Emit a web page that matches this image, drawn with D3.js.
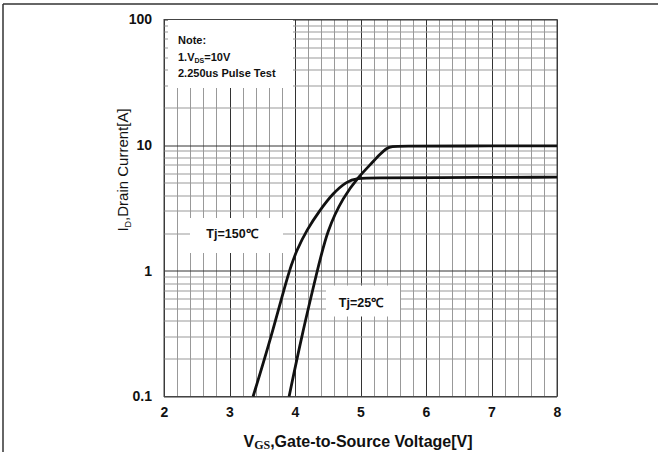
<!DOCTYPE html>
<html>
<head>
<meta charset="utf-8">
<script src="https://cdn.jsdelivr.net/npm/d3@7"></script>
<style>
  body { margin: 0; background: #fff; }
  svg { display: block; }
  .tick text { font-family: "Liberation Sans", Arial, sans-serif; font-weight: bold; font-size: 14px; fill: #111; }
</style>
</head>
<body>
<svg width="658" height="452"></svg>
<script>
// values
const xTicks = [2, 3, 4, 5, 6, 7, 8];
const yTicks = [0.1, 1, 10, 100];
const yTickLabels = ["0.1", "1", "10", "100"];

const vgs25 = [3.91, 4.10, 4.34, 4.49, 4.74, 4.97, 5.15, 5.30, 5.40, 5.48, 5.60, 6.50, 8.00];
const id25  = [0.10, 0.30, 1.00, 2.10, 3.90, 5.60, 7.00, 8.50, 9.50, 9.78, 9.82, 9.85, 9.87];

const vgs150 = [3.36, 3.64, 3.91, 4.03, 4.18, 4.38, 4.58, 4.79, 4.94, 5.22, 6.00, 8.00];
const id150  = [0.10, 0.30, 1.02, 1.47, 2.12, 3.04, 4.15, 5.15, 5.45, 5.50, 5.52, 5.56];

const margin = { top: 19.5, left: 164 };
const width = 393, height = 377;

const svg = d3.select("svg");

// outer frame (top and left edges only visible)
svg.append("line").attr("x1", 3).attr("x2", 658).attr("y1", 4).attr("y2", 4)
    .attr("stroke", "#333").attr("stroke-width", 1.5);
svg.append("line").attr("x1", 3).attr("x2", 3).attr("y1", 4).attr("y2", 452)
    .attr("stroke", "#333").attr("stroke-width", 1.5);

const g = svg.append("g").attr("transform", `translate(${margin.left},${margin.top})`);

const x = d3.scaleLinear().domain([2, 8]).range([0, width]);
const y = d3.scaleLog().domain([0.1, 100]).range([height, 0]);

// grid
const vLines = d3.range(0, 31).map(i => 2 + i * 0.2);
const hLines = [];
[0.1, 1, 10].forEach(d => { for (let k = 1; k <= 9; k++) hLines.push(d * k); });
hLines.push(100);

g.append("g").selectAll("line").data(vLines).join("line")
    .attr("x1", d => Math.round(x(d)) + 0.5).attr("x2", d => Math.round(x(d)) + 0.5)
    .attr("y1", 0).attr("y2", height)
    .attr("stroke", (d, i) => i % 5 === 0 ? "#333" : "#999")
    .attr("stroke-width", 1);

g.append("g").selectAll("line").data(hLines).join("line")
    .attr("x1", 0).attr("x2", width)
    .attr("y1", d => Math.round(y(d)) + 0.5).attr("y2", d => Math.round(y(d)) + 0.5)
    .attr("stroke", (d, i) => i % 9 === 0 ? "#333" : "#999")
    .attr("stroke-width", 1);

g.append("rect").attr("width", width).attr("height", height)
    .attr("fill", "none").attr("stroke", "#444").attr("stroke-width", 1);

// white label boxes over the grid
const boxes = [
    { x: 4, y: 0.5, w: 125, h: 68 },
    { x: 26, y: 198.5, w: 93, h: 35 },
    { x: 162, y: 266, w: 74, h: 31 }
];
g.append("g").selectAll("rect").data(boxes).join("rect")
    .attr("x", d => d.x).attr("y", d => d.y).attr("width", d => d.w).attr("height", d => d.h)
    .attr("fill", "#fff");

// curves
const line = d3.line()
    .x(d => x(d[0]))
    .y(d => y(d[1]))
    .curve(d3.curveBasis);

[[vgs25, id25], [vgs150, id150]].forEach(([vx, vy]) => {
    g.append("path")
        .datum(vx.map((v, i) => [v, vy[i]]))
        .attr("fill", "none")
        .attr("stroke", "#111")
        .attr("stroke-width", 2.8)
        .attr("stroke-linejoin", "round")
        .attr("d", line);
});

// axes (labels only)
const xAxis = g.append("g")
    .attr("transform", `translate(0,${height})`)
    .call(d3.axisBottom(x).tickValues(xTicks).tickFormat(d3.format("d")).tickSize(0).tickPadding(11));
xAxis.select(".domain").remove();

const yAxis = g.append("g")
    .call(d3.axisLeft(y).tickValues(yTicks).tickFormat((d, i) => yTickLabels[i]).tickSize(0).tickPadding(12));
yAxis.select(".domain").remove();

// axis titles
const xt = svg.append("text")
    .attr("x", 358).attr("y", 447)
    .attr("text-anchor", "middle")
    .attr("font-family", "Liberation Sans, Arial, sans-serif")
    .attr("font-weight", "bold").attr("font-size", 16).attr("fill", "#111");
xt.append("tspan").text("V");
xt.append("tspan").attr("font-family", "Liberation Serif, Times New Roman, serif")
    .attr("font-size", 12).attr("dy", 2).text("GS");
xt.append("tspan").attr("dy", -2).text(",Gate-to-Source Voltage[V]");

const yt = svg.append("text")
    .attr("transform", "translate(128,170) rotate(-90)")
    .attr("text-anchor", "middle")
    .attr("font-family", "Liberation Sans, Arial, sans-serif")
    .attr("font-size", 15).attr("fill", "#111");
yt.append("tspan").text("I");
yt.append("tspan").attr("font-size", 9).attr("dy", 3).text("D");
yt.append("tspan").attr("dy", -3).text(",Drain Current[A]");

// note
const note = svg.append("g")
    .attr("font-family", "Liberation Sans, Arial, sans-serif")
    .attr("font-weight", "bold").attr("font-size", 11).attr("fill", "#111");
note.append("text").attr("x", 178).attr("y", 44).text("Note:");
const n1 = note.append("text").attr("x", 178).attr("y", 61);
n1.append("tspan").text("1.V");
n1.append("tspan").attr("font-size", 7).attr("dy", 2).text("DS");
n1.append("tspan").attr("dy", -2).text("=10V");
note.append("text").attr("x", 178).attr("y", 77).text("2.250us  Pulse Test");

// temperature labels
const tLabels = [
    { text: "Tj=150℃", cx: 232, cy: 238 },
    { text: "Tj=25℃", cx: 361, cy: 307 }
];
svg.append("g").selectAll("text").data(tLabels).join("text")
    .attr("x", d => d.cx).attr("y", d => d.cy)
    .attr("text-anchor", "middle")
    .attr("font-family", "Liberation Sans, Arial, sans-serif")
    .attr("font-weight", "bold").attr("font-size", 12.5).attr("fill", "#111")
    .text(d => d.text);
</script>
</body>
</html>
